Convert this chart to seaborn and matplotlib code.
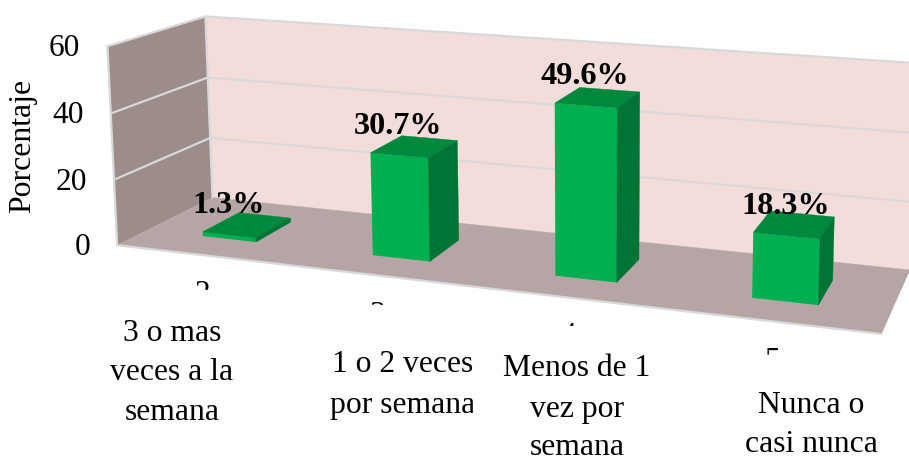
import numpy as np
import matplotlib
matplotlib.use("Agg")
import matplotlib.pyplot as plt
from matplotlib.patches import Rectangle
from matplotlib.transforms import Affine2D, Transform
import pandas as pd
import seaborn as sns

# chart values
codes = ["2", "3", "4", "5"]
categories = [["3 o mas", "veces a la", "semana"],
              ["1 o 2 veces", "por semana"],
              ["Menos de 1", "vez por", "semana"],
              ["Nunca o", "casi nunca"]]
percent = [1.3, 30.7, 49.6, 18.3]
percent_labels = ["1.3%", "30.7%", "49.6%", "18.3%"]
y_ticks = [0, 20, 40, 60]

# colours
front_col = "#00B050"
top_col = "#00883C"
side_col = "#007434"
left_wall = "#9C8D8B"
back_wall = "#F2DDDB"
floor_col = "#B5A6A5"
grid_col = "#D9D9D9"

W, H = 909, 458
X0, X1 = -0.5, 3.5
BAR_W = 0.32
D0, D1 = 0.3, 0.7

# camera fitted to where the plot box and the bars sit in the image
# (category position, depth, value) -> pixel
world = [(X0, 0, 0), (X0, 1, 0), (X0, 0, 60), (X0, 1, 60), (X1, 0, 0), (X1, 1, 0), (X1, 1, 60),
         (0.84, D0, 30.7), (1.16, D0, 30.7), (0.84, D0, 0), (1.16, D0, 0), (1.16, D1, 30.7), (1.16, D1, 0),
         (1.84, D0, 49.6), (2.16, D0, 49.6), (1.84, D0, 0), (2.16, D0, 0), (2.16, D1, 49.6), (2.16, D1, 0),
         (2.84, D0, 18.3), (3.16, D0, 18.3), (2.84, D0, 0), (3.16, D0, 0), (3.16, D1, 18.3), (3.16, D1, 0)]
image = [(118, 245), (213, 197), (106, 46), (205, 17), (881, 335), (914, 268), (914, 63),
         (372, 153), (428, 158), (373, 255), (429, 261), (457, 141), (458, 241),
         (557, 103), (618, 107), (555, 276), (616, 282), (641, 92), (637, 260),
         (755, 233), (820, 239), (752, 297), (817, 305), (834, 217), (831, 282)]

rows, rhs = [], []
for (x, d, v), (u, w) in zip(world, image):
    rows.append([x, d, v, 1, 0, 0, 0, 0, -u * x, -u * d, -u * v])
    rows.append([0, 0, 0, 0, x, d, v, 1, -w * x, -w * d, -w * v])
    rhs += [u, w]
cam = np.append(np.linalg.lstsq(np.array(rows, float), np.array(rhs, float), rcond=None)[0], 1).reshape(3, 4)


def project(x, d, v):
    p = cam @ np.array([x, d, v, 1.0])
    return p[0] / p[2], p[1] / p[2]


class FrontFace(Transform):
    # puts (category, value) on the front plane of the bars
    input_dims = 2
    output_dims = 2

    def transform_non_affine(self, values):
        values = np.asarray(values, float)
        return np.array([project(x, D0, v) for x, v in values])


sns.set_style("white")
plt.rcParams["font.family"] = ["Liberation Serif", "DejaVu Serif"]
plt.rcParams["text.color"] = "black"

fig = plt.figure(figsize=(W / 100, H / 100), dpi=100)
ax = fig.add_axes([0, 0, 1, 1])
pix = Affine2D().scale(1, -1).translate(0, H)
screen = Affine2D()

df = pd.DataFrame({"code": codes, "percent": percent})
sns.barplot(data=df, x="code", y="percent", color=front_col, saturation=1, width=BAR_W, linewidth=0, ax=ax)
ax.set_xlim(X0, X1)
ax.set_ylim(0, 60)
ax.axis("off")


def face(points, color, z):
    pts = [project(*p) for p in points]
    ax.fill([p[0] for p in pts], [p[1] for p in pts], color=color, lw=0.3, transform=pix, zorder=z, clip_on=False)


def line(points, z=1):
    pts = [project(*p) for p in points]
    ax.plot([p[0] for p in pts], [p[1] for p in pts], color=grid_col, lw=1.6, transform=pix, zorder=z, clip_on=False)


# walls and floor
face([(X0, 0, 0), (X0, 1, 0), (X0, 1, 60), (X0, 0, 60)], left_wall, 0)
face([(X0, 1, 0), (X1, 1, 0), (X1, 1, 60), (X0, 1, 60)], back_wall, 0)
face([(X0, 0, 0), (X1, 0, 0), (X1, 1, 0), (X0, 1, 0)], floor_col, 0.5)
for t in y_ticks:
    if t > 0:
        line([(X0, 0, t), (X0, 1, t), (X1, 1, t)], 0.7)
    u, w = project(X0, 0, t)
    ax.text(u - 27, H - w - 2.5, str(t), fontsize=22.6, ha="right", va="center", transform=screen, zorder=5)
line([(X0, 0, 0), (X1, 0, 0)], 0.6)
line([(X0, 0, 0), (X0, 0, 60)], 0.6)
line([(X0, 1, 0), (X0, 1, 60)], 0.6)

# bars: seaborn draws the fronts, the other faces come from the same values
for i, (patch, val, lab) in enumerate(zip(ax.patches, percent, percent_labels)):
    patch.set_transform(FrontFace() + pix)
    patch.set_clip_on(False)
    patch.set_zorder(2)
    a, b = i - BAR_W / 2, i + BAR_W / 2
    face([(a, D0, val), (b, D0, val), (b, D1, val), (a, D1, val)], top_col, 2)
    face([(b, D0, 0), (b, D1, 0), (b, D1, val), (b, D0, val)], side_col, 2)
    u, w = project(i, D0, val)
    ax.text(u - 1, H - w + 29, lab, fontsize=23.2, fontweight="bold", ha="center", va="center",
            transform=screen, zorder=5)

ax.text(23, H - 146, "Porcentaje", fontsize=22.9, rotation=90, ha="center", va="center", transform=screen, zorder=5)

# leftover axis numbers, mostly hidden behind the white label boxes
code_pos = [(202, 302), (377, 323), (568, 344), (772, 369)]
code_cut = [290, 305, 326, 355]
for c, (u, base), cut in zip(codes, code_pos, code_cut):
    ax.text(u, H - base, c, fontsize=22.6, ha="center", va="baseline", transform=screen, zorder=3)
    ax.add_patch(Rectangle((u - 30, cut), 60, 30, color="white", transform=pix, zorder=4, clip_on=False))

label_x = [172, 403, 577, 811]
label_base = [[341, 380, 420], [372, 413], [376, 417, 455], [413, 452]]
for u, lines, bases in zip(label_x, categories, label_base):
    for s, base in zip(lines, bases):
        ax.text(u, H - base, s, fontsize=22.8, ha="center", va="baseline", transform=screen, zorder=5)
# the third label box cuts off the second label
ax.add_patch(Rectangle((473, 355), 20, 70, color="white", transform=pix, zorder=6, clip_on=False))

fig.savefig("out.png", dpi=100)
